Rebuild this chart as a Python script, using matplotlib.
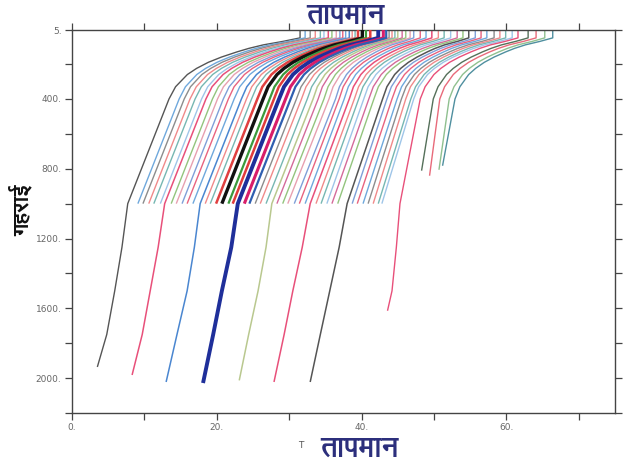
import matplotlib
matplotlib.use("Agg")
import matplotlib.pyplot as plt
from matplotlib import font_manager, ft2font
from matplotlib.ticker import FixedLocator

# ---------------- data ----------------
# depth knots of the upper ocean (m) and the thermocline shape
# (fraction of the surface-minus-400 m temperature difference left at each knot)
upper_depths = [5, 50, 70, 90, 110, 130, 160, 190, 225, 260, 330, 400]
upper_shape = [1.0, 1.0, 0.87, 0.72, 0.61, 0.52, 0.40, 0.30, 0.21, 0.14, 0.05, 0.0]

# profiles reaching 1000 m (left to right)
t_surface = [31.5, 32.2, 32.9, 33.6, 34.3, 34.8, 35.4, 35.9, 36.5, 37.0,
             37.4, 37.8, 38.3, 38.7, 39.1, 39.5, 40.1, 40.6, 41.2, 42.3,
             43.0, 43.4, 43.8, 44.2, 44.6, 45.0, 45.6, 46.1, 46.7, 47.2,
             48.1, 48.9, 49.7, 50.6, 51.4, 52.3, 53.2, 54.0, 54.8, 55.7,
             56.5, 57.3, 58.3, 59.1, 59.9, 60.8]
t_400m = [13.4, 14.8, 15.5, 16.3, 17.0, 17.9, 18.5, 19.4, 20.1, 20.9,
          21.6, 22.4, 23.4, 24.1, 24.8, 25.6, 26.4, 27.3, 27.9, 28.6,
          29.5, 30.2, 31.0, 31.7, 32.5, 33.3, 34.0, 34.8, 35.5, 36.4,
          36.9, 37.6, 38.3, 39.0, 39.6, 40.3, 41.0, 41.7, 42.9, 43.5,
          44.2, 44.9, 45.5, 46.1, 46.8, 47.2]
t_1000m = [7.7, 9.1, 9.8, 10.6, 11.3, 12.2, 12.8, 13.7, 14.4, 15.2,
           15.9, 16.7, 17.7, 18.4, 19.1, 19.9, 20.7, 21.6, 22.2, 22.9,
           23.8, 24.5, 25.3, 26.0, 26.8, 27.6, 28.3, 29.1, 29.8, 30.7,
           31.4, 32.2, 32.9, 33.7, 34.4, 35.2, 35.9, 36.7, 38.0, 38.7,
           39.4, 40.2, 40.9, 41.6, 42.3, 42.8]

# profiles that continue below 1000 m: index into the lists above
deep_index = [0, 6, 12, 19, 25, 32, 38]
t_1250m = [6.9, 11.9, 16.9, 22.0, 26.8, 31.8, 36.9]
t_1500m = [5.9, 10.8, 15.9, 20.7, 25.7, 30.5, 35.6]
t_1750m = [4.8, 9.7, 14.5, 19.5, 24.4, 29.3, 34.3]
t_deep_end = [3.5, 8.3, 13.0, 18.1, 23.1, 27.9, 32.9]
deep_end_depth = [1936, 1982, 2022, 2028, 2013, 2022, 2022]

# one profile reaching about 1600 m
mid_surface, mid_400m, mid_1000m = 61.6, 48.1, 45.3
mid_1250m, mid_1500m, mid_end = 44.8, 44.2, 43.6
mid_end_depth = 1610

# warmest profiles, ending near 800 m
warm_surface = [63.0, 64.1, 65.3, 66.4]
warm_400m = [49.9, 50.8, 52.1, 52.9]
warm_end = [48.3, 49.4, 50.7, 51.2]
warm_end_depth = [807, 836, 802, 779]

x_ticks_major = [0, 20, 40, 60]
x_tick_labels = ["0.", "20.", "40.", "60."]
x_ticks_minor = [10, 30, 50, 70]
y_ticks_major = [5, 400, 800, 1200, 1600, 2000]
y_tick_labels = ["5.", "400.", "800.", "1200.", "1600.", "2000."]
y_ticks_minor = [200, 600, 1000, 1400, 1800, 2200]

title_text = "तापमान"
x_title = "तापमान"
x_small = "T"
y_title = "गहराई"

# ---------------- styles ----------------
cycle = ['#e8637f', '#6fa8dc', '#8c8c8c', '#f08a8a', '#76b7b2',
         '#9fc5e8', '#d46a9a', '#93c47d', '#e7a0b0', '#7f9fd8']
special = {0: ('#555555', 1.0), 6: ('#e8507a', 1.1), 12: ('#4a86d0', 1.1),
           15: ('#e04040', 1.8), 16: ('#111111', 2.4), 17: ('#3c9a3c', 1.6),
           18: ('#e03c3c', 1.8), 19: ('#1f2f9a', 2.8), 20: ('#d81e6a', 2.2),
           21: ('#2f5fb0', 1.6), 25: ('#b9c88f', 1.1), 32: ('#e8507a', 1.1),
           38: ('#555555', 1.1)}
warm_colors = ['#55705a', '#e86a7a', '#8fc08f', '#4f8f9f']


def find_deva_font():
    found = []
    seen = set()
    paths = [f.fname for f in font_manager.fontManager.ttflist]
    try:
        paths += font_manager.findSystemFonts()
    except Exception:
        pass
    for p in paths:
        if p in seen:
            continue
        seen.add(p)
        try:
            cm = ft2font.FT2Font(p).get_charmap()
        except Exception:
            continue
        if 0x0924 in cm and 0x092E in cm and 0x0908 in cm:
            found.append(p)
    if not found:
        return None, None
    bold = [p for p in found if 'bold' in p.lower()]
    reg = found[0]
    return reg, (bold[0] if bold else reg)


reg_path, bold_path = find_deva_font()
if bold_path:
    fp_bold = font_manager.FontProperties(fname=bold_path)
else:
    fp_bold = font_manager.FontProperties(family='DejaVu Sans', weight='bold')

fig = plt.figure(figsize=(6.25, 4.62), dpi=100)
fig.patch.set_facecolor('white')
ax = fig.add_axes([0.1152, 0.106, 0.8688, 0.829])

n = len(t_1000m)
for i in range(n):
    col, lw = special.get(i, (cycle[i % len(cycle)], 1.0))
    temps = [t_400m[i] + s * (t_surface[i] - t_400m[i]) for s in upper_shape]
    depths = list(upper_depths)
    temps.append(t_1000m[i])
    depths.append(1000)
    if i in deep_index:
        k = deep_index.index(i)
        temps += [t_1250m[k], t_1500m[k], t_1750m[k], t_deep_end[k]]
        depths += [1250, 1500, 1750, deep_end_depth[k]]
    ax.plot(temps, depths, color=col, lw=lw, solid_capstyle='butt',
            solid_joinstyle='round', zorder=3 if lw > 1.5 else 2)

# profile to ~1600 m
temps = [mid_400m + s * (mid_surface - mid_400m) for s in upper_shape] + \
        [mid_1000m, mid_1250m, mid_1500m, mid_end]
depths = list(upper_depths) + [1000, 1250, 1500, mid_end_depth]
ax.plot(temps, depths, color='#e8507a', lw=1.0)

# warm profiles to ~800 m
for k in range(len(warm_surface)):
    temps = [warm_400m[k] + s * (warm_surface[k] - warm_400m[k]) for s in upper_shape] + [warm_end[k]]
    depths = list(upper_depths) + [warm_end_depth[k]]
    ax.plot(temps, depths, color=warm_colors[k], lw=1.0)

ax.set_xlim(0, 75)
ax.set_ylim(2200, 5)

ax.xaxis.set_major_locator(FixedLocator(x_ticks_major))
ax.xaxis.set_minor_locator(FixedLocator(x_ticks_minor))
ax.set_xticklabels(x_tick_labels)
ax.yaxis.set_major_locator(FixedLocator(y_ticks_major))
ax.yaxis.set_minor_locator(FixedLocator(y_ticks_minor))
ax.set_yticklabels(y_tick_labels)

ax.tick_params(which='both', direction='out', length=5, width=0.9,
               top=True, right=True, labelsize=6.5, labelcolor='#666666',
               color='#444444', pad=2.5)
for sp in ax.spines.values():
    sp.set_color('#444444')
    sp.set_linewidth(1.0)

fig.text(0.553, 0.968, title_text, ha='center', va='center', fontsize=20,
         color='#2c2f7c', fontproperties=fp_bold)
fig.text(0.575, 0.03, x_title, ha='center', va='center', fontsize=20,
         color='#2c2f7c', fontproperties=fp_bold)
fig.text(0.482, 0.036, x_small, ha='center', va='center', fontsize=6.5,
         color='#555555')
fig.text(0.034, 0.545, y_title, ha='center', va='center', fontsize=16,
         rotation=90, color='#111111', fontproperties=fp_bold)

fig.savefig('out.png', dpi=100, facecolor='white')
